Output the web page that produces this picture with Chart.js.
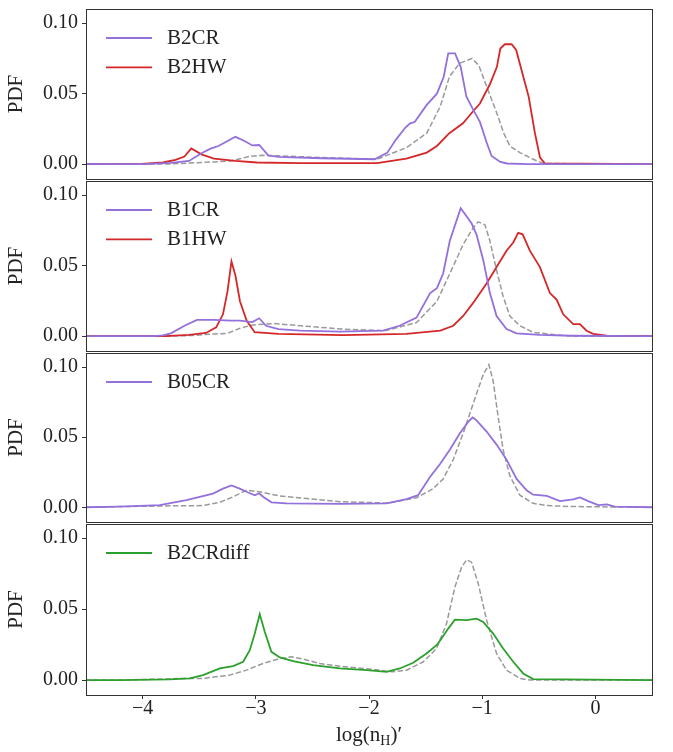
<!DOCTYPE html>
<html>
<head>
<meta charset="utf-8">
<script src="https://cdn.jsdelivr.net/npm/chart.js@4.4.1/dist/chart.umd.min.js"></script>
<style>
  html, body { margin: 0; padding: 0; background: #fff; }
  #wrap { position: relative; width: 673px; height: 752px; background: #fff; overflow: hidden; }
  #wrap canvas { position: absolute; left: 0; }
  #xtitle { position: absolute; left: 86px; width: 566px; top: 721px; text-align: center;
            font-family: 'Liberation Serif', 'DejaVu Serif', serif; font-size: 21px; color: #222; line-height: 26px; }
  #xtitle sub { font-size: 14px; vertical-align: -0.3em; line-height: 0; }
</style>
</head>
<body>
<div id="wrap">
  <canvas id="p1"></canvas>
  <canvas id="p2"></canvas>
  <canvas id="p3"></canvas>
  <canvas id="p4"></canvas>
  <div id="xtitle">log(n<sub>H</sub>)′</div>
</div>
<script>
// axis ranges and ticks (shared by all panels)
const xMin = -4.5, xMax = 0.5;
const yMin = -0.0105, yMax = 0.110;
const xTicks = [-4, -3, -2, -1, 0];
const yTicks = [0, 0.05, 0.10];

// panel 1 : B2CR / B2HW
const b2crX = [-4.5, -4.0, -3.75, -3.59, -3.48, -3.40, -3.33, -3.18, -3.10, -3.03, -2.97, -2.89, -2.80, -2.42, -1.95, -1.84, -1.76, -1.68, -1.64, -1.595, -1.49, -1.40, -1.34, -1.30, -1.24, -1.19, -1.14, -1.08, -1.02, -0.96, -0.917, -0.84, -0.78, -0.6, 0.5];
const b2crY = [0, 0, 0.001, 0.0023, 0.0077, 0.011, 0.0129, 0.0194, 0.0164, 0.0133, 0.0136, 0.0063, 0.0052, 0.0042, 0.0035, 0.008, 0.0176, 0.0258, 0.0288, 0.030, 0.042, 0.050, 0.062, 0.0785, 0.0785, 0.069, 0.048, 0.0387, 0.030, 0.0152, 0.0058, 0.0016, 0.0005, 0, 0];
const b2hwX = [-4.5, -4.01, -3.82, -3.71, -3.63, -3.57, -3.48, -3.37, -3.18, -2.99, -2.61, -1.93, -1.67, -1.49, -1.40, -1.29, -1.17, -1.08, -1.02, -0.93, -0.87, -0.84, -0.80, -0.74, -0.70, -0.59, -0.535, -0.49, -0.446, 0.5];
const b2hwY = [0, 0.0002, 0.0012, 0.003, 0.0054, 0.0112, 0.007, 0.004, 0.0023, 0.0012, 0.0007, 0.0007, 0.004, 0.0082, 0.0129, 0.022, 0.029, 0.0375, 0.043, 0.057, 0.069, 0.082, 0.085, 0.085, 0.081, 0.048, 0.0224, 0.0049, 0.0005, 0];
const ref1X = [-4.5, -3.75, -3.37, -3.22, -3.06, -2.95, -2.80, -2.42, -1.93, -1.67, -1.49, -1.37, -1.29, -1.20, -1.09, -1.03, -0.96, -0.87, -0.81, -0.755, -0.667, -0.55, -0.46, 0.5];
const ref1Y = [0, 0.0002, 0.0016, 0.0023, 0.0054, 0.0063, 0.0059, 0.0047, 0.0035, 0.0117, 0.022, 0.041, 0.062, 0.0715, 0.075, 0.070, 0.055, 0.036, 0.022, 0.0129, 0.0082, 0.0035, 0.0005, 0];

// panel 2 : B1CR / B1HW
const b1crX = [-4.5, -3.9, -3.82, -3.75, -3.63, -3.52, -3.37, -3.22, -3.14, -3.03, -2.97, -2.91, -2.80, -2.61, -2.26, -1.875, -1.73, -1.58, -1.46, -1.40, -1.345, -1.286, -1.19, -1.094, -1.05, -0.99, -0.932, -0.873, -0.785, -0.696, -0.49, -0.2, 0.5];
const b1crY = [0, 0, 0.0005, 0.002, 0.0074, 0.0116, 0.0116, 0.011, 0.011, 0.010, 0.0127, 0.0074, 0.005, 0.004, 0.0032, 0.0039, 0.0074, 0.0132, 0.0306, 0.034, 0.0444, 0.0676, 0.0907, 0.080, 0.072, 0.0537, 0.0306, 0.0143, 0.0051, 0.002, 0.0009, 0.0003, 0];
const b1hwX = [-4.5, -3.8, -3.59, -3.44, -3.35, -3.29, -3.25, -3.215, -3.18, -3.14, -3.08, -3.01, -2.80, -2.23, -1.67, -1.37, -1.256, -1.168, -1.08, -0.96, -0.873, -0.785, -0.726, -0.682, -0.643, -0.579, -0.49, -0.402, -0.343, -0.284, -0.196, -0.137, -0.078, -0.019, 0.1, 0.5];
const b1hwY = [0, 0, 0.001, 0.0023, 0.0063, 0.0155, 0.0317, 0.053, 0.043, 0.0248, 0.0109, 0.0028, 0.0016, 0.0007, 0.0016, 0.0039, 0.0074, 0.0143, 0.0236, 0.0375, 0.049, 0.0606, 0.0664, 0.0733, 0.0722, 0.0606, 0.049, 0.0306, 0.0259, 0.0155, 0.0085, 0.0085, 0.0039, 0.0016, 0.0003, 0];
const ref2X = [-4.5, -3.8, -3.56, -3.37, -3.25, -3.14, -3.03, -2.84, -2.61, -2.23, -1.85, -1.58, -1.40, -1.286, -1.168, -1.08, -1.036, -0.976, -0.932, -0.873, -0.815, -0.756, -0.667, -0.55, -0.343, -0.2, 0.5];
const ref2Y = [0, 0, 0.0005, 0.0016, 0.002, 0.0056, 0.0079, 0.009, 0.0074, 0.005, 0.004, 0.0097, 0.0247, 0.0444, 0.065, 0.0768, 0.081, 0.079, 0.0676, 0.0467, 0.0282, 0.0143, 0.0074, 0.0028, 0.0009, 0, 0];

// panel 3 : B05CR
const b05crX = [-4.5, -4.2, -3.85, -3.613, -3.495, -3.378, -3.29, -3.215, -3.142, -3.068, -3.009, -2.97, -2.936, -2.862, -2.729, -2.258, -1.845, -1.668, -1.566, -1.463, -1.374, -1.286, -1.197, -1.124, -1.085, -1.05, -0.961, -0.873, -0.785, -0.696, -0.608, -0.55, -0.43, -0.313, -0.196, -0.137, -0.063, 0.025, 0.1, 0.173, 0.5];
const b05crY = [0, 0.0005, 0.0016, 0.0051, 0.0075, 0.0098, 0.0133, 0.0156, 0.0133, 0.0105, 0.0086, 0.010, 0.0075, 0.0035, 0.0028, 0.0024, 0.0028, 0.0058, 0.0086, 0.0214, 0.0307, 0.041, 0.0528, 0.0609, 0.064, 0.062, 0.054, 0.0447, 0.034, 0.0202, 0.0121, 0.009, 0.0081, 0.0044, 0.0056, 0.007, 0.0044, 0.0016, 0.0021, 0.0005, 0];
const ref3X = [-4.5, -4.2, -3.76, -3.466, -3.318, -3.20, -3.083, -2.965, -2.788, -2.552, -2.258, -1.83, -1.58, -1.433, -1.345, -1.256, -1.168, -1.08, -0.991, -0.941, -0.903, -0.859, -0.815, -0.756, -0.667, -0.55, -0.43, -0.2, 0.5];
const ref3Y = [0, 0.0005, 0.001, 0.0012, 0.0035, 0.0075, 0.0121, 0.011, 0.0081, 0.0063, 0.004, 0.003, 0.0068, 0.0133, 0.0202, 0.034, 0.0528, 0.0738, 0.0947, 0.1017, 0.090, 0.0644, 0.041, 0.0225, 0.0086, 0.0028, 0.0012, 0.0005, 0];

// panel 4 : B2CRdiff
const b2crdiffX = [-4.5, -4.2, -3.76, -3.583, -3.466, -3.318, -3.20, -3.112, -3.053, -3.009, -2.965, -2.921, -2.862, -2.788, -2.67, -2.494, -2.258, -2.02, -1.845, -1.728, -1.61, -1.492, -1.403, -1.359, -1.30, -1.241, -1.138, -1.05, -0.991, -0.903, -0.815, -0.726, -0.638, -0.55, 0.5];
const b2crdiffY = [0, 0, 0.0005, 0.0012, 0.0035, 0.0082, 0.0098, 0.0129, 0.0211, 0.0328, 0.0464, 0.034, 0.0199, 0.016, 0.0134, 0.0105, 0.0082, 0.007, 0.0058, 0.0082, 0.0122, 0.0187, 0.0246, 0.0293, 0.0363, 0.0426, 0.0422, 0.0433, 0.041, 0.0328, 0.0223, 0.0129, 0.0047, 0.0007, 0];
const ref4X = [-4.5, -4.2, -3.613, -3.466, -3.23, -3.083, -2.936, -2.788, -2.685, -2.582, -2.435, -2.258, -1.963, -1.786, -1.668, -1.52, -1.403, -1.315, -1.241, -1.182, -1.138, -1.094, -1.035, -0.961, -0.873, -0.785, -0.667, -0.58, 0.5];
const ref4Y = [0, 0, 0.0012, 0.0012, 0.0035, 0.007, 0.0117, 0.0152, 0.0164, 0.0148, 0.0117, 0.0098, 0.0075, 0.0058, 0.007, 0.0129, 0.0223, 0.0398, 0.0656, 0.0796, 0.0848, 0.0831, 0.068, 0.0422, 0.0187, 0.007, 0.0012, 0, 0];

const PURPLE = '#9370db', RED = '#d62728', GREEN = '#2ca02c', GREY = '#9a9a9a';
const SERIF = "'Liberation Serif', 'DejaVu Serif', serif";
const PAD = 13;        // room above/below each plot frame for the tick labels
const AXIS_W = 86;     // width of the y axis column
const RIGHT = 21;      // space right of the frame

function pts(xs, ys) {
  return xs.map((x, i) => ({ x: x, y: ys[i] }));
}
function line(label, xs, ys, color) {
  return { label: label, data: pts(xs, ys), borderColor: color, borderWidth: 1.8,
           pointRadius: 0, tension: 0, fill: false };
}
function refLine(xs, ys) { // dashed grey reference curve, not in legend
  return { label: '', data: pts(xs, ys), borderColor: GREY, borderWidth: 1.5,
           borderDash: [5.5, 2.4], pointRadius: 0, tension: 0, fill: false };
}

// box around each panel
const framePlugin = {
  id: 'frame',
  afterDraw(chart) {
    const a = chart.chartArea, ctx = chart.ctx;
    ctx.save();
    ctx.strokeStyle = '#333';
    ctx.lineWidth = 1;
    ctx.strokeRect(Math.round(a.left) + 0.5, Math.round(a.top) + 0.5,
                   Math.round(a.right - a.left), Math.round(a.bottom - a.top));
    ctx.restore();
  }
};

// legend drawn inside the upper left corner of the panel
const legendPlugin = {
  id: 'panelLegend',
  afterDatasetsDraw(chart) {
    const a = chart.chartArea, ctx = chart.ctx;
    let row = 0;
    ctx.save();
    ctx.font = '21px ' + SERIF;
    ctx.textBaseline = 'middle';
    chart.data.datasets.forEach(ds => {
      if (!ds.label) return;
      const y = a.top + 29 + row * 29.4;
      ctx.strokeStyle = ds.borderColor;
      ctx.lineWidth = 1.8;
      ctx.beginPath();
      ctx.moveTo(a.left + 20, y);
      ctx.lineTo(a.left + 66, y);
      ctx.stroke();
      ctx.fillStyle = '#222';
      ctx.fillText(ds.label, a.left + 81, y);
      row++;
    });
    ctx.restore();
  }
};

const panels = [
  { id: 'p1', top: 8, bottom: 180,
    sets: [line('B2CR', b2crX, b2crY, PURPLE), line('B2HW', b2hwX, b2hwY, RED), refLine(ref1X, ref1Y)] },
  { id: 'p2', top: 180, bottom: 352,
    sets: [line('B1CR', b1crX, b1crY, PURPLE), line('B1HW', b1hwX, b1hwY, RED), refLine(ref2X, ref2Y)] },
  { id: 'p3', top: 352, bottom: 523,
    sets: [line('B05CR', b05crX, b05crY, PURPLE), refLine(ref3X, ref3Y)] },
  { id: 'p4', top: 523, bottom: 695,
    sets: [line('B2CRdiff', b2crdiffX, b2crdiffY, GREEN), refLine(ref4X, ref4Y)] }
];

const X_AXIS_H = 30;

panels.forEach((p, idx) => {
  const last = idx === panels.length - 1;
  const canvas = document.getElementById(p.id);
  const h = PAD + (p.bottom - p.top) + (last ? X_AXIS_H : PAD);
  canvas.width = 673;
  canvas.height = h;
  canvas.style.top = (p.top - PAD) + 'px';

  const xScale = {
    type: 'linear', min: xMin, max: xMax, display: last,
    afterBuildTicks: s => { s.ticks = xTicks.map(v => ({ value: v })); },
    ticks: {
      font: { family: SERIF, size: 20, lineHeight: 1 }, color: '#222', padding: 0, maxRotation: 0,
      callback: v => (v < 0 ? '\u2212' + Math.abs(v) : String(v))
    },
    grid: { display: true, drawOnChartArea: false, drawTicks: true, tickLength: 4, color: '#333' },
    border: { display: true, color: '#333' }
  };
  if (last) xScale.afterFit = s => { s.height = X_AXIS_H; };

  new Chart(canvas, {
    type: 'line',
    data: { datasets: p.sets },
    options: {
      responsive: false,
      animation: false,
      devicePixelRatio: 1,
      layout: { padding: { top: PAD, bottom: last ? 0 : PAD, left: 0, right: RIGHT } },
      plugins: { legend: { display: false }, tooltip: { enabled: false } },
      scales: {
        x: xScale,
        y: {
          type: 'linear', min: yMin, max: yMax,
          afterBuildTicks: s => { s.ticks = yTicks.map(v => ({ value: v })); },
          afterFit: s => { s.width = AXIS_W; },
          ticks: {
            font: { family: SERIF, size: 20, lineHeight: 1 }, color: '#222', padding: 4,
            callback: v => v.toFixed(2)
          },
          grid: { display: true, drawOnChartArea: false, drawTicks: true, tickLength: 4, color: '#333' },
          border: { display: true, color: '#333' },
          title: { display: true, text: 'PDF', color: '#222',
                   font: { family: SERIF, size: 21 }, padding: { top: 4, bottom: 0 } }
        }
      }
    },
    plugins: [framePlugin, legendPlugin]
  });
});
</script>
</body>
</html>
